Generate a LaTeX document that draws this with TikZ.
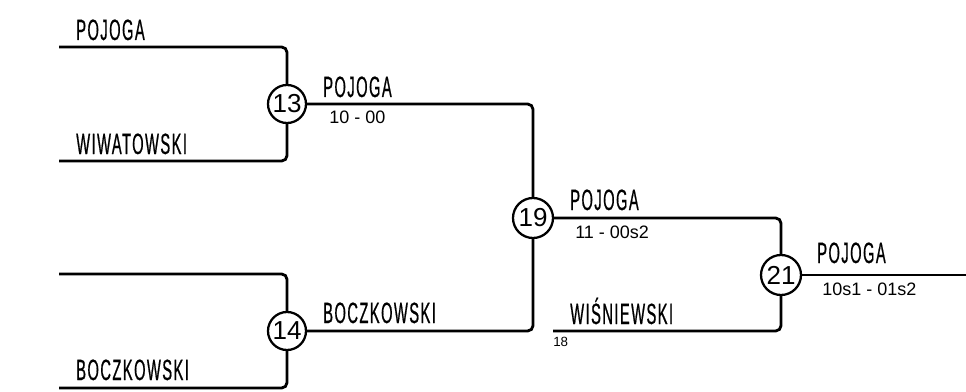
\documentclass[tikz,border=0pt]{standalone}
\usepackage{fontspec}
\setmainfont{Liberation Sans}
\newfontfamily\teamfont{Liberation Sans}[FakeStretch=0.5,LetterSpace=5,FakeBold=0.6]
\usetikzlibrary{positioning}

\begin{document}
\begin{tikzpicture}[
  x=0.75pt, y=-0.75pt,
  link/.style={line width=2.1pt, rounded corners=4pt},
  game/.style={draw, circle, line width=1.7pt, inner sep=0pt, minimum size=28.5pt, font=\fontsize{19.5}{19.5}\selectfont},
  team/.style={anchor=base west, inner sep=0pt, font=\teamfont\fontsize{22}{22}\selectfont},
  score/.style={anchor=base west, inner sep=0pt, font=\fontsize{13.5}{13.5}\selectfont}
]
\useasboundingbox (0,0) rectangle (966,392);

\node[game] (g13) at (287,104) {13};
\node[game] (g14) at (287,331) {14};
\node[game, minimum size=30pt] (g19) at (533,218) {19};
\node[game, minimum size=30pt] (g21) at (781,275) {21};

\coordinate (a13) at (59,47);
\coordinate (b13) at (59,161);
\coordinate (a14) at (59,274);
\coordinate (b14) at (59,388);
\coordinate (b21) at (553,331);
\coordinate (win) at (966,275);

\draw[link] (a13) -| (g13);
\draw[link] (b13) -| (g13);
\draw[link] (a14) -| (g14);
\draw[link] (b14) -| (g14);
\draw[link] (g13) -| (g19);
\draw[link] (g14) -| (g19);
\draw[link] (g19) -| (g21);
\draw[link] (b21) -| (g21);
\draw[link] (g21) -- (win);

\node[team] (t1) at (76,40) {POJOGA};
\node[team] (t2) at (76,154) {WIWATOWSKI};
\node[team] (t3) at (76,380) {BOCZKOWSKI};
\node[team] (w13) at (323,97) {POJOGA};
\node[score] (s13) at (329,124) {10 - 00};
\node[team] (w14) at (323,323) {BOCZKOWSKI};
\node[team] (w19) at (570,210) {POJOGA};
\node[score] (s19) at (575,238) {11 - 00s2};
\node[team] (t4) at (570,324) {WIŚNIEWSKI};
\node[score, font=\fontsize{10}{10}\selectfont] (n18) at (553,346) {18};
\node[team] (w21) at (817,263) {POJOGA};
\node[score] (s21) at (822,295) {10s1 - 01s2};
\end{tikzpicture}
\end{document}
